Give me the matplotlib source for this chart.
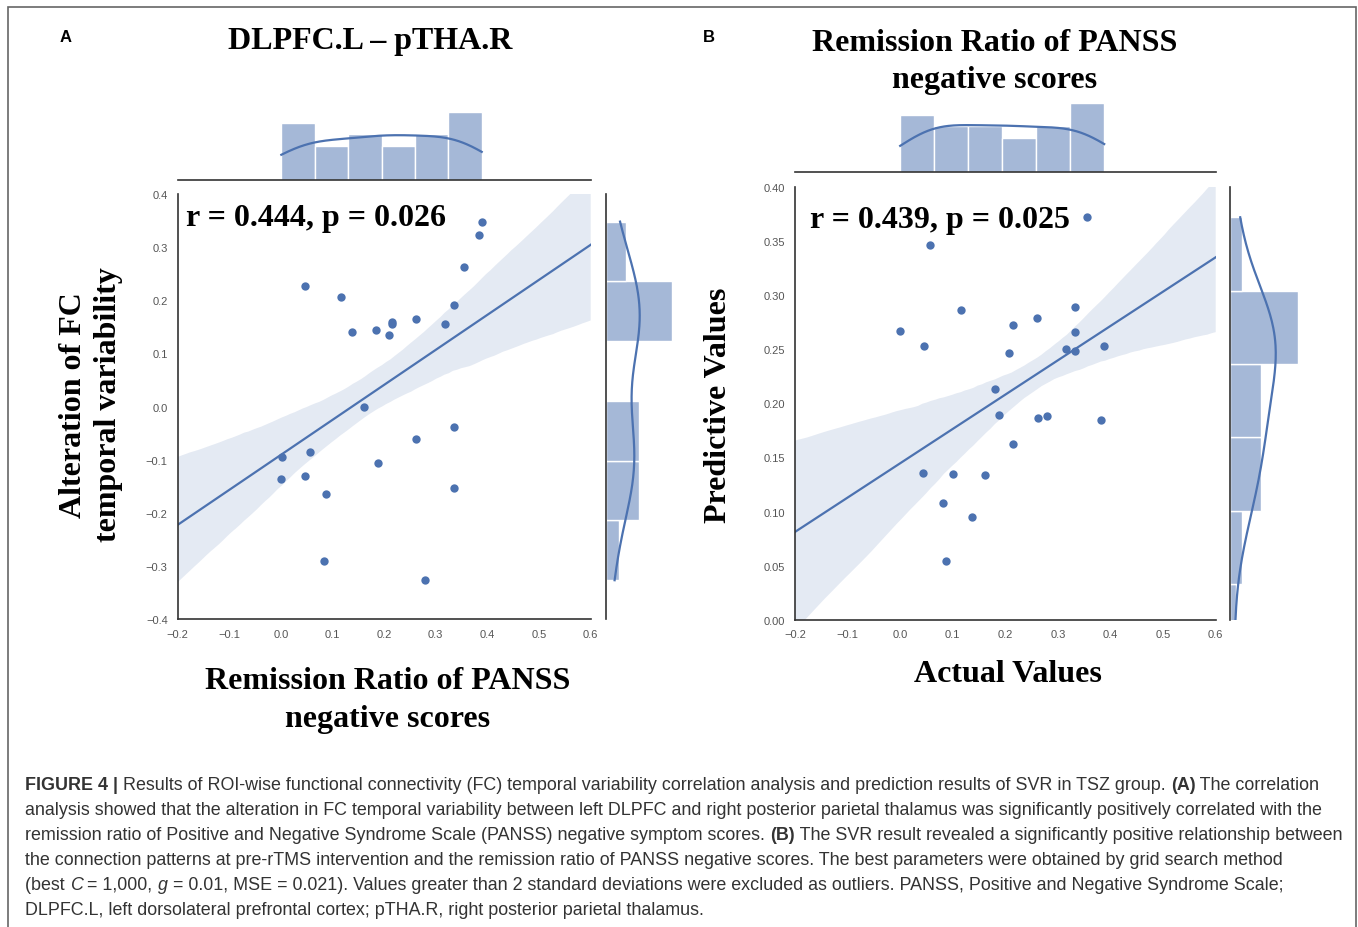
import matplotlib
matplotlib.use("Agg")
import matplotlib.pyplot as plt
import matplotlib.patches as patches
import numpy as np
import seaborn as sns

# ---------------------------#
# Data
# ---------------------------#

# Panel A: remission ratio vs alteration of FC temporal variability
a_remission = [0.389, 0.383, 0.355, 0.046, 0.117, 0.335, 0.137, 0.184, 0.210,
               0.215, 0.215, 0.262, 0.318, 0.162, 0.335, 0.262, 0.002, 0.057,
               0.188, 0.001, 0.046, 0.088, 0.335, 0.083, 0.280]
a_alteration = [0.348, 0.322, 0.263, 0.226, 0.207, 0.192, 0.140, 0.144, 0.135,
                0.159, 0.155, 0.164, 0.155, 0.000, -0.038, -0.062, -0.095, -0.086,
                -0.107, -0.136, -0.131, -0.164, -0.153, -0.290, -0.327]

# Panel B: actual vs predicted (last point lies below the visible y range)
b_actual = [0.355, 0.056, 0.116, 0.000, 0.045, 0.332, 0.261, 0.215, 0.332,
            0.207, 0.315, 0.332, 0.388, 0.181, 0.187, 0.262, 0.279, 0.381,
            0.215, 0.043, 0.100, 0.161, 0.082, 0.136, 0.087, 0.030]
b_predicted = [0.372, 0.346, 0.286, 0.267, 0.253, 0.289, 0.279, 0.272, 0.266,
               0.247, 0.250, 0.248, 0.253, 0.213, 0.189, 0.186, 0.188, 0.185,
               0.162, 0.136, 0.135, 0.134, 0.108, 0.095, 0.054, -0.035]

a_xticks = np.round(np.arange(-0.2, 0.61, 0.1), 2)
a_yticks = np.round(np.arange(-0.4, 0.41, 0.1), 2)
b_xticks = np.round(np.arange(-0.2, 0.61, 0.1), 2)
b_yticks = np.round(np.arange(0.0, 0.41, 0.05), 2)

caption_lines = [
    [("FIGURE 4 | ", "bold", "normal"),
     ("Results of ROI-wise functional connectivity (FC) temporal variability correlation analysis and prediction results of SVR in TSZ group. ", "normal", "normal"),
     ("(A)", "bold", "normal"),
     (" The correlation", "normal", "normal")],
    [("analysis showed that the alteration in FC temporal variability between left DLPFC and right posterior parietal thalamus was significantly positively correlated with the", "normal", "normal")],
    [("remission ratio of Positive and Negative Syndrome Scale (PANSS) negative symptom scores. ", "normal", "normal"),
     ("(B)", "bold", "normal"),
     (" The SVR result revealed a significantly positive relationship between", "normal", "normal")],
    [("the connection patterns at pre-rTMS intervention and the remission ratio of PANSS negative scores. The best parameters were obtained by grid search method", "normal", "normal")],
    [("(best ", "normal", "normal"), ("C", "normal", "italic"),
     (" = 1,000, ", "normal", "normal"), ("g", "normal", "italic"),
     (" = 0.01, MSE = 0.021). Values greater than 2 standard deviations were excluded as outliers. PANSS, Positive and Negative Syndrome Scale;", "normal", "normal")],
    [("DLPFC.L, left dorsolateral prefrontal cortex; pTHA.R, right posterior parietal thalamus.", "normal", "normal")],
]

BLUE = "#4C72B0"
SERIF = "Liberation Serif"
SANS = "Liberation Sans"
W, H = 1358, 928


def box(l, t, r, b):
    # pixel box -> figure fraction
    return [l / W, 1 - b / H, (r - l) / W, (b - t) / H]


def style_main(ax, xlim, ylim, xticks, yticks):
    ax.set_xlim(xlim)
    ax.set_ylim(ylim)
    ax.set_xticks(xticks)
    ax.set_yticks(yticks)
    for s in ["top", "right"]:
        ax.spines[s].set_visible(False)
    for s in ["left", "bottom"]:
        ax.spines[s].set_color("#333333")
        ax.spines[s].set_linewidth(1.2)
    ax.tick_params(length=0, pad=7, labelsize=8, labelcolor="#555555")
    for lab in ax.get_xticklabels() + ax.get_yticklabels():
        lab.set_fontfamily(SANS)
    ax.set_xlabel("")
    ax.set_ylabel("")


def joint_panel(fig, x, y, main_box, top_box, right_box, xlim, ylim, xticks, yticks):
    ax = fig.add_axes(box(*main_box))
    ax.set_xlim(xlim)
    ax.set_ylim(ylim)
    sns.regplot(x=np.array(x), y=np.array(y), ax=ax, color=BLUE, truncate=False,
                ci=75, seed=0, scatter_kws={"s": 36, "linewidths": 0, "alpha": 1},
                line_kws={"lw": 1.6})
    style_main(ax, xlim, ylim, xticks, yticks)

    ax_top = fig.add_axes(box(*top_box))
    sns.histplot(x=x, ax=ax_top, bins=6, kde=True, color=BLUE, alpha=0.5,
                 edgecolor="white", linewidth=1, line_kws={"lw": 1.6})
    ax_top.set_xlim(xlim)
    for s in ["top", "right", "left"]:
        ax_top.spines[s].set_visible(False)
    ax_top.spines["bottom"].set_color("#333333")
    ax_top.spines["bottom"].set_linewidth(1.2)
    ax_top.set_xticks([])
    ax_top.set_yticks([])
    ax_top.set_xlabel("")
    ax_top.set_ylabel("")

    ax_right = fig.add_axes(box(*right_box))
    sns.histplot(y=y, ax=ax_right, bins=6, kde=True, color=BLUE, alpha=0.5,
                 edgecolor="white", linewidth=1, line_kws={"lw": 1.6})
    ax_right.set_ylim(ylim)
    for s in ["top", "right", "bottom"]:
        ax_right.spines[s].set_visible(False)
    ax_right.spines["left"].set_color("#333333")
    ax_right.spines["left"].set_linewidth(1.2)
    ax_right.set_xticks([])
    ax_right.set_yticks([])
    ax_right.set_xlabel("")
    ax_right.set_ylabel("")
    return ax


def rich_line(fig, x, y, parts, **kw):
    renderer = fig.canvas.get_renderer()
    for txt, weight, style in parts:
        t = fig.text(x, y, txt, fontweight=weight, fontstyle=style, **kw)
        bb = t.get_window_extent(renderer)
        x += bb.width / fig.bbox.width


def main():
    fig = plt.figure(figsize=(W / 100, H / 100), dpi=100)

    # outer frame
    fig.patches.append(patches.Rectangle((8 / W, -0.05), 1348 / W, 1 - 8 / H + 0.05,
                                         transform=fig.transFigure, fill=False,
                                         edgecolor="#666666", lw=1.2))

    #-------------------------------#
    # Panel A
    #-------------------------------#
    joint_panel(fig, a_remission, a_alteration,
                (177.5, 195, 590.7, 620), (177.5, 109.3, 590.7, 180.7),
                (605.7, 195, 675.7, 620),
                (-0.2, 0.6), (-0.4, 0.4), a_xticks, a_yticks)

    #-------------------------------#
    # Panel B
    #-------------------------------#
    joint_panel(fig, b_actual, b_predicted,
                (795, 188, 1215.7, 620.7), (795, 100.5, 1215.7, 173.3),
                (1230, 188, 1301.4, 620.7),
                (-0.2, 0.6), (0.0, 0.4), b_xticks, b_yticks)

    #-------------------------------#
    # Text
    #-------------------------------#
    tkw = dict(family=SERIF, fontweight="bold", fontsize=23, color="black")
    fig.text(66 / W, 1 - 37 / H, "A", family=SANS, fontweight="bold", fontsize=12,
             ha="center", va="center")
    fig.text(709 / W, 1 - 37 / H, "B", family=SANS, fontweight="bold", fontsize=12,
             ha="center", va="center")

    fig.text(370.5 / W, 1 - 42 / H, "DLPFC.L \u2013 pTHA.R", ha="center", va="center", **tkw)
    fig.text(995 / W, 1 - 62 / H, "Remission Ratio of PANSS\nnegative scores",
             ha="center", va="center", linespacing=1.39, **tkw)

    fig.text(186 / W, 1 - 218.5 / H, "r = 0.444, p = 0.026", ha="left", va="center", **tkw)
    fig.text(810 / W, 1 - 220.5 / H, "r = 0.439, p = 0.025", ha="left", va="center", **tkw)

    fig.text(91 / W, 1 - 405 / H, "Alteration of FC\ntemporal variability",
             ha="center", va="center", rotation=90, linespacing=1.31, **tkw)
    fig.text(719 / W, 1 - 405 / H, "Predictive Values",
             ha="center", va="center", rotation=90, **tkw)

    fig.text(388 / W, 1 - 700.5 / H, "Remission Ratio of PANSS\nnegative scores",
             ha="center", va="center", linespacing=1.42, **tkw)
    fig.text(1008 / W, 1 - 675 / H, "Actual Values", ha="center", va="center", **tkw)

    # caption
    for i, parts in enumerate(caption_lines):
        rich_line(fig, 25 / W, 1 - (785.5 + 25 * i) / H, parts, family=SANS,
                  fontsize=12.85, color="#333333", va="center")

    fig.savefig("out.png", dpi=100)


if __name__ == "__main__":
    main()
